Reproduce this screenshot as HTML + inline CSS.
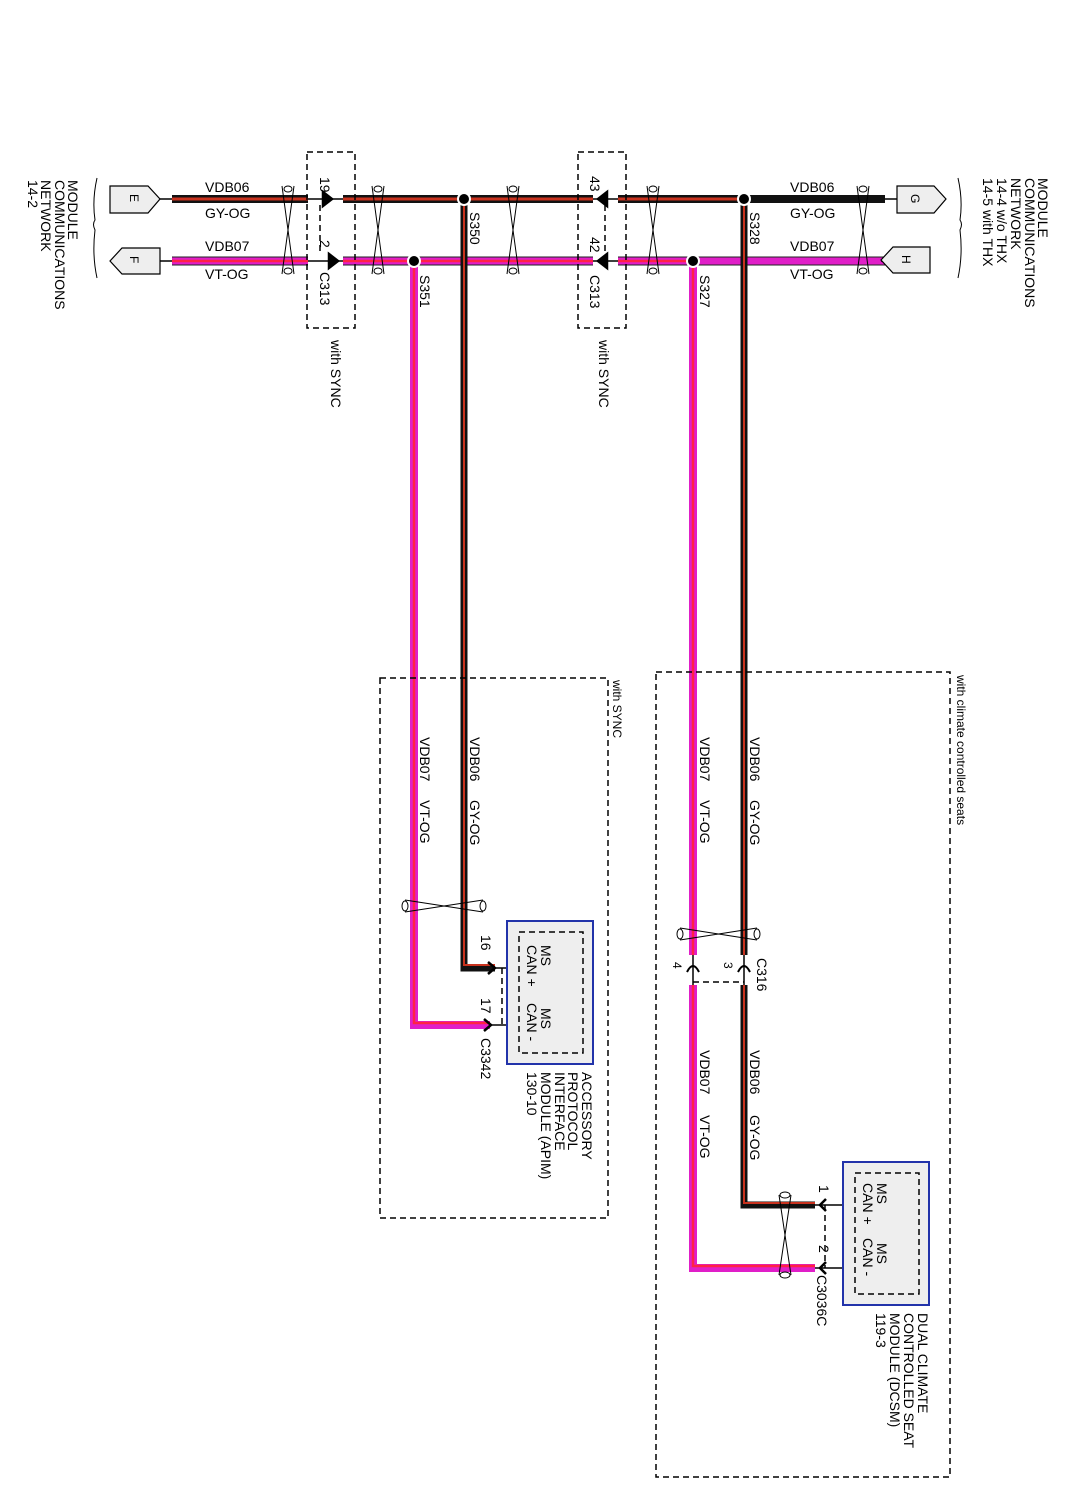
<!DOCTYPE html>
<html><head><style>
html,body{margin:0;padding:0;background:#fff;}
svg{display:block;font-family:"Liberation Sans",Arial,sans-serif;}
</style></head><body>
<svg width="1085" height="1490" viewBox="0 0 1085 1490" xmlns="http://www.w3.org/2000/svg">
<g fill="none" stroke-linejoin="miter">
<path d="M172,199 H308 M343,199 H593 M618,199 H885" stroke="#111" stroke-width="8"/>
<path d="M172,199 H308 M343,199 H593 M618,199 H740" stroke="#c8321e" stroke-width="3"/>
<path d="M160,199 H172 M885,199 H897" stroke="#000" stroke-width="1.5"/>
<path d="M172,261 H308 M343,261 H593 M618,261 H885" stroke="#222" stroke-width="9"/>
<path d="M172,261 H308 M343,261 H593 M618,261 H885" stroke="#e01ec8" stroke-width="7"/>
<path d="M172,261 H308 M343,261 H593 M618,261 H700" stroke="#ff2244" stroke-width="2.5"/>
<path d="M160,261 H172 M885,261 H881" stroke="#000" stroke-width="1.5"/>
<path d="M464,199 V968 H495" stroke="#111" stroke-width="7"/>
<path d="M464,205 V965 H495" stroke="#c8321e" stroke-width="2"/>
<path d="M414,261 V1025 H490" stroke="#e01ec8" stroke-width="8"/>
<path d="M414,266 V1023 H490" stroke="#ff2244" stroke-width="2.5"/>
<path d="M744,199 V955 M744,985 V1205 H815" stroke="#111" stroke-width="7"/>
<path d="M744,205 V955 M744,985 V1203 H815" stroke="#c8321e" stroke-width="2"/>
<path d="M693,261 V955 M693,985 V1268 H815" stroke="#e01ec8" stroke-width="8"/>
<path d="M693,266 V955 M693,985 V1266 H815" stroke="#ff2244" stroke-width="2.5"/>
<path d="M308,199 H343 M308,261 H343 M593,199 H618 M593,261 H618" stroke="#000" stroke-width="1.5"/>
<path d="M495,968 H519 M490,1025 H519 M815,1205 H855 M815,1268 H855" stroke="#000" stroke-width="1.5"/>
<path d="M693,955 V985 M744,955 V985" stroke="#000" stroke-width="1.5"/>
<path d="M323,192 L332,199 L323,206 Z M329,254 L338,261 L329,268 Z M607,192 L598,199 L607,206 Z M607,254 L598,261 L607,268 Z" stroke="#000" stroke-width="2.5" fill="#000"/>
<path d="M488,962 L495,968 L488,974 M484,1019 L491,1025 L484,1031 M826,1199 L820,1205 L826,1211 M826,1262 L820,1268 L826,1274" stroke="#000" stroke-width="2.5"/>
<path d="M687,972 Q693,960 699,972 M738,972 Q744,960 750,972" stroke="#000" stroke-width="2"/>
<g stroke="#000" stroke-width="1.5" stroke-dasharray="6,4">
<rect x="307" y="152" width="48" height="176"/>
<rect x="578" y="152" width="48" height="176"/>
<rect x="380" y="678" width="228" height="540"/>
<rect x="656" y="672" width="294" height="805"/>
<path d="M320,205 V255 M605,205 V255 M502,968 V1025 M825,1205 V1268 M693,982 H744"/>
</g>
<rect x="507" y="921" width="86" height="143" fill="#eee" stroke="#2233aa" stroke-width="2"/>
<rect x="519" y="932" width="64" height="121" stroke="#000" stroke-width="1.5" stroke-dasharray="6,4"/>
<rect x="843" y="1162" width="86" height="143" fill="#eee" stroke="#2233aa" stroke-width="2"/>
<rect x="855" y="1173" width="64" height="121" stroke="#000" stroke-width="1.5" stroke-dasharray="6,4"/>
<path d="M110,186 H148 L160,199 L148,213 H110 Z" fill="#eee" stroke="#000" stroke-width="1.2"/>
<path d="M122,248 H160 V274 H122 L110,261 Z" fill="#eee" stroke="#000" stroke-width="1.2"/>
<path d="M897,186 H934 L946,199 L934,213 H897 Z" fill="#eee" stroke="#000" stroke-width="1.2"/>
<path d="M893,247 H930 V273 H893 L881,260 Z" fill="#eee" stroke="#000" stroke-width="1.2"/>
<path d="M97,178 Q92,200 95,220 Q92,224 95,230 Q92,255 97,278" stroke="#000" stroke-width="1"/>
<path d="M958,178 Q963,200 960,220 Q963,224 960,230 Q963,255 958,278" stroke="#000" stroke-width="1"/>
<path d="M405,900 L483,912 M405,912 L483,900" stroke="#000" stroke-width="1"/>
<path d="M680,928 L757,940 M680,940 L757,928" stroke="#000" stroke-width="1"/>
<path d="M779,1195 L791,1275 M791,1195 L779,1275" stroke="#000" stroke-width="1"/>
</g>
<g fill="#fff" stroke="#000">
<ellipse cx="405" cy="906" rx="3" ry="5"/><ellipse cx="483" cy="906" rx="3" ry="5"/>
<ellipse cx="680" cy="934" rx="3" ry="5"/><ellipse cx="757" cy="934" rx="3" ry="5"/>
<ellipse cx="785" cy="1195" rx="5" ry="3"/><ellipse cx="785" cy="1275" rx="5" ry="3"/>
</g>
<g fill="none">
<path d="M282,186 L294,274 M294,186 L282,274" stroke="#000" stroke-width="1"/>
<path d="M372,186 L384,274 M384,186 L372,274" stroke="#000" stroke-width="1"/>
<path d="M507,186 L519,274 M519,186 L507,274" stroke="#000" stroke-width="1"/>
<path d="M647,186 L659,274 M659,186 L647,274" stroke="#000" stroke-width="1"/>
<path d="M857,186 L869,274 M869,186 L857,274" stroke="#000" stroke-width="1"/>
</g>
<g fill="#fff" stroke="#000">
<ellipse cx="288" cy="189" rx="4" ry="3"/><ellipse cx="288" cy="271" rx="4" ry="3"/>
<ellipse cx="378" cy="189" rx="4" ry="3"/><ellipse cx="378" cy="271" rx="4" ry="3"/>
<ellipse cx="513" cy="189" rx="4" ry="3"/><ellipse cx="513" cy="271" rx="4" ry="3"/>
<ellipse cx="653" cy="189" rx="4" ry="3"/><ellipse cx="653" cy="271" rx="4" ry="3"/>
<ellipse cx="863" cy="189" rx="4" ry="3"/><ellipse cx="863" cy="271" rx="4" ry="3"/>
</g>
<g fill="#000" stroke="#fff" stroke-width="2">
<circle cx="464" cy="199" r="6"/><circle cx="414" cy="261" r="6"/>
<circle cx="744" cy="199" r="6"/><circle cx="693" cy="261" r="6"/>
</g>
<g font-size="14" fill="#000">
<text x="205" y="192">VDB06</text><text x="205" y="218">GY-OG</text>
<text x="205" y="251">VDB07</text><text x="205" y="279">VT-OG</text>
<text x="790" y="192">VDB06</text><text x="790" y="218">GY-OG</text>
<text x="790" y="251">VDB07</text><text x="790" y="279">VT-OG</text>
<text x="130" y="204" font-size="12" transform="rotate(90 135 199)">E</text>
<text x="130" y="266" font-size="12" transform="rotate(90 135 261)">F</text>
<text x="911" y="204" font-size="12" transform="rotate(90 916 199)">G</text>
<text x="902" y="265" font-size="12" transform="rotate(90 907 260)">H</text>
</g>
<g font-size="14" fill="#000">
<text transform="translate(68,180) rotate(90)">MODULE</text>
<text transform="translate(55,180) rotate(90)">COMMUNICATIONS</text>
<text transform="translate(41,180) rotate(90)">NETWORK</text>
<text transform="translate(28,180) rotate(90)">14-2</text>
<text transform="translate(1038,178) rotate(90)">MODULE</text>
<text transform="translate(1025,178) rotate(90)">COMMUNICATIONS</text>
<text transform="translate(1011,178) rotate(90)">NETWORK</text>
<text transform="translate(997,178) rotate(90)">14-4  w/o THX</text>
<text transform="translate(983,178) rotate(90)">14-5  with THX</text>
<text transform="translate(320,177) rotate(90)">19</text>
<text transform="translate(320,240) rotate(90)">2</text>
<text transform="translate(320,272) rotate(90)">C313</text>
<text transform="translate(331,340) rotate(90)">with SYNC</text>
<text transform="translate(470,212) rotate(90)">S350</text>
<text transform="translate(420,275) rotate(90)">S351</text>
<text transform="translate(590,176) rotate(90)">43</text>
<text transform="translate(590,237) rotate(90)">42</text>
<text transform="translate(590,275) rotate(90)">C313</text>
<text transform="translate(599,340) rotate(90)">with SYNC</text>
<text transform="translate(750,212) rotate(90)">S328</text>
<text transform="translate(700,275) rotate(90)">S327</text>
<text transform="translate(613,680) rotate(90)" font-size="12">with SYNC</text>
<text transform="translate(957,675) rotate(90)" font-size="12">with climate controlled seats</text>
<text transform="translate(420,737) rotate(90)">VDB07</text>
<text transform="translate(420,800) rotate(90)">VT-OG</text>
<text transform="translate(470,737) rotate(90)">VDB06</text>
<text transform="translate(470,800) rotate(90)">GY-OG</text>
<text transform="translate(700,737) rotate(90)">VDB07</text>
<text transform="translate(700,800) rotate(90)">VT-OG</text>
<text transform="translate(750,737) rotate(90)">VDB06</text>
<text transform="translate(750,800) rotate(90)">GY-OG</text>
<text transform="translate(700,1050) rotate(90)">VDB07</text>
<text transform="translate(700,1115) rotate(90)">VT-OG</text>
<text transform="translate(750,1050) rotate(90)">VDB06</text>
<text transform="translate(750,1115) rotate(90)">GY-OG</text>
<text transform="translate(757,958) rotate(90)">C316</text>
<text transform="translate(724,962) rotate(90)" font-size="12">3</text>
<text transform="translate(673,962) rotate(90)" font-size="12">4</text>
<text transform="translate(481,935) rotate(90)">16</text>
<text transform="translate(481,998) rotate(90)">17</text>
<text transform="translate(481,1038) rotate(90)">C3342</text>
<text transform="translate(541,945) rotate(90)">MS</text>
<text transform="translate(527,945) rotate(90)">CAN +</text>
<text transform="translate(541,1008) rotate(90)">MS</text>
<text transform="translate(527,1003) rotate(90)">CAN -</text>
<text transform="translate(582,1072) rotate(90)">ACCESSORY</text>
<text transform="translate(568,1072) rotate(90)">PROTOCOL</text>
<text transform="translate(555,1072) rotate(90)">INTERFACE</text>
<text transform="translate(541,1072) rotate(90)">MODULE (APIM)</text>
<text transform="translate(527,1072) rotate(90)">130-10</text>
<text transform="translate(819,1185) rotate(90)">1</text>
<text transform="translate(819,1245) rotate(90)">2</text>
<text transform="translate(817,1275) rotate(90)">C3036C</text>
<text transform="translate(877,1183) rotate(90)">MS</text>
<text transform="translate(863,1183) rotate(90)">CAN +</text>
<text transform="translate(877,1243) rotate(90)">MS</text>
<text transform="translate(863,1238) rotate(90)">CAN -</text>
<text transform="translate(918,1313) rotate(90)">DUAL CLIMATE</text>
<text transform="translate(904,1313) rotate(90)">CONTROLLED SEAT</text>
<text transform="translate(890,1313) rotate(90)">MODULE (DCSM)</text>
<text transform="translate(876,1313) rotate(90)">119-3</text>
</g>
</svg>
</body></html>
